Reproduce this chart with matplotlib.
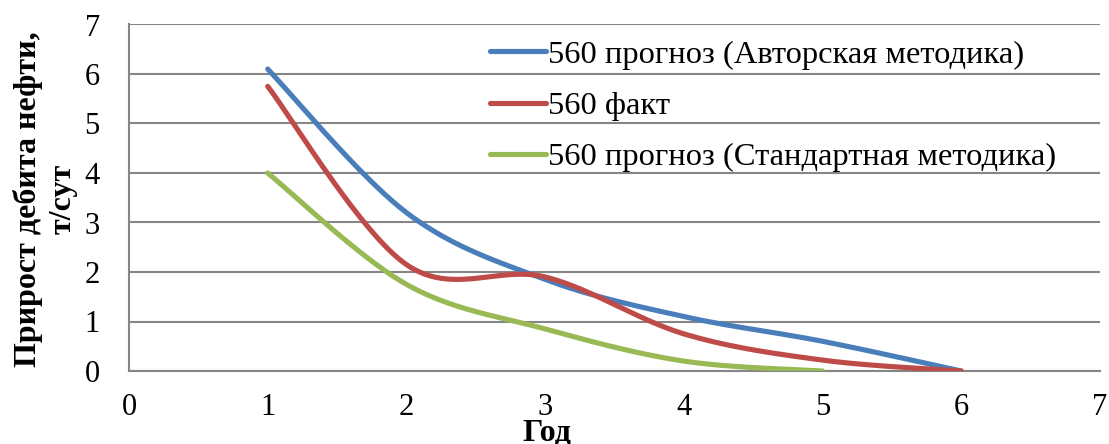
import numpy as np
import matplotlib
matplotlib.use("Agg")
import matplotlib.pyplot as plt

plt.rcParams['font.family'] = ['Liberation Serif', 'DejaVu Serif']

years_a = [1, 2, 3, 4, 5, 6]
author_forecast = [6.1, 3.2, 1.85, 1.1, 0.6, 0.0]
years_f = [1, 2, 3, 4, 5, 6]
fact = [5.75, 2.15, 1.9, 0.75, 0.22, 0.0]
years_s = [1, 2, 3, 4, 5]
standard_forecast = [4.0, 1.75, 0.85, 0.2, 0.0]

labels = ["560 прогноз (Авторская методика)", "560 факт",
          "560 прогноз (Стандартная методика)"]
colors = ["#4A7EBB", "#BE4B48", "#98B954"]
xticks = list(range(0, 8))
yticks = list(range(0, 8))


def smooth(xs, ys, n=40):
    P = np.column_stack([xs, ys]).astype(float)
    m = len(P)
    out = []
    for i in range(m - 1):
        p0 = P[i - 1] if i > 0 else P[i]
        p1 = P[i]
        p2 = P[i + 1]
        p3 = P[i + 2] if i + 2 < m else P[i + 1]
        b1 = p1 + (p2 - p0) / 6.0
        b2 = p2 - (p3 - p1) / 6.0
        t = np.linspace(0, 1, n)[:, None]
        seg = ((1 - t) ** 3) * p1 + 3 * ((1 - t) ** 2) * t * b1 + 3 * (1 - t) * t ** 2 * b2 + t ** 3 * p2
        out.append(seg if i == 0 else seg[1:])
    c = np.vstack(out)
    return c[:, 0], c[:, 1]


W, H = 1109, 444
fig = plt.figure(figsize=(W / 100, H / 100), dpi=100)
ax = fig.add_axes([129 / W, (H - 371) / H, (1100 - 129) / W, (371 - 24.5) / H])

for xs, ys, lab, col in zip([years_a, years_f, years_s],
                            [author_forecast, fact, standard_forecast],
                            labels, colors):
    sx, sy = smooth(xs, ys)
    ax.plot(sx, sy, color=col, lw=3.7, label=lab, solid_capstyle='round', zorder=3)

ax.set_xlim(0, 7)
ax.set_ylim(0, 7)
ax.set_xticks(xticks)
ax.set_yticks(yticks)
ax.grid(axis='y', color='#868686', lw=1.5)
ax.set_axisbelow(True)
for s in ['top', 'right']:
    ax.spines[s].set_visible(False)
for s in ['left', 'bottom']:
    ax.spines[s].set_color('#868686')
    ax.spines[s].set_linewidth(1.5)
ax.tick_params(axis='both', length=0, labelsize=22)
ax.tick_params(axis='x', pad=16)
ax.tick_params(axis='y', pad=21)

leg = ax.legend(loc='upper left', bbox_to_anchor=(490 / W, (H - 40) / H),
                bbox_transform=fig.transFigure, frameon=False, fontsize=23.4,
                handlelength=1.72, handletextpad=0.08, labelspacing=0.66,
                borderpad=0, borderaxespad=0)

fig.text(45 / W, (H - 199) / H, "Прирост дебита нефти,\nт/сут", rotation=90,
         ha='center', va='center', multialignment='center', fontsize=23,
         fontweight='bold', linespacing=1.25)
fig.text(547 / W, (H - 418) / H, "Год", ha='center', va='top', fontsize=23,
         fontweight='bold')

fig.savefig("out.png", dpi=100)
